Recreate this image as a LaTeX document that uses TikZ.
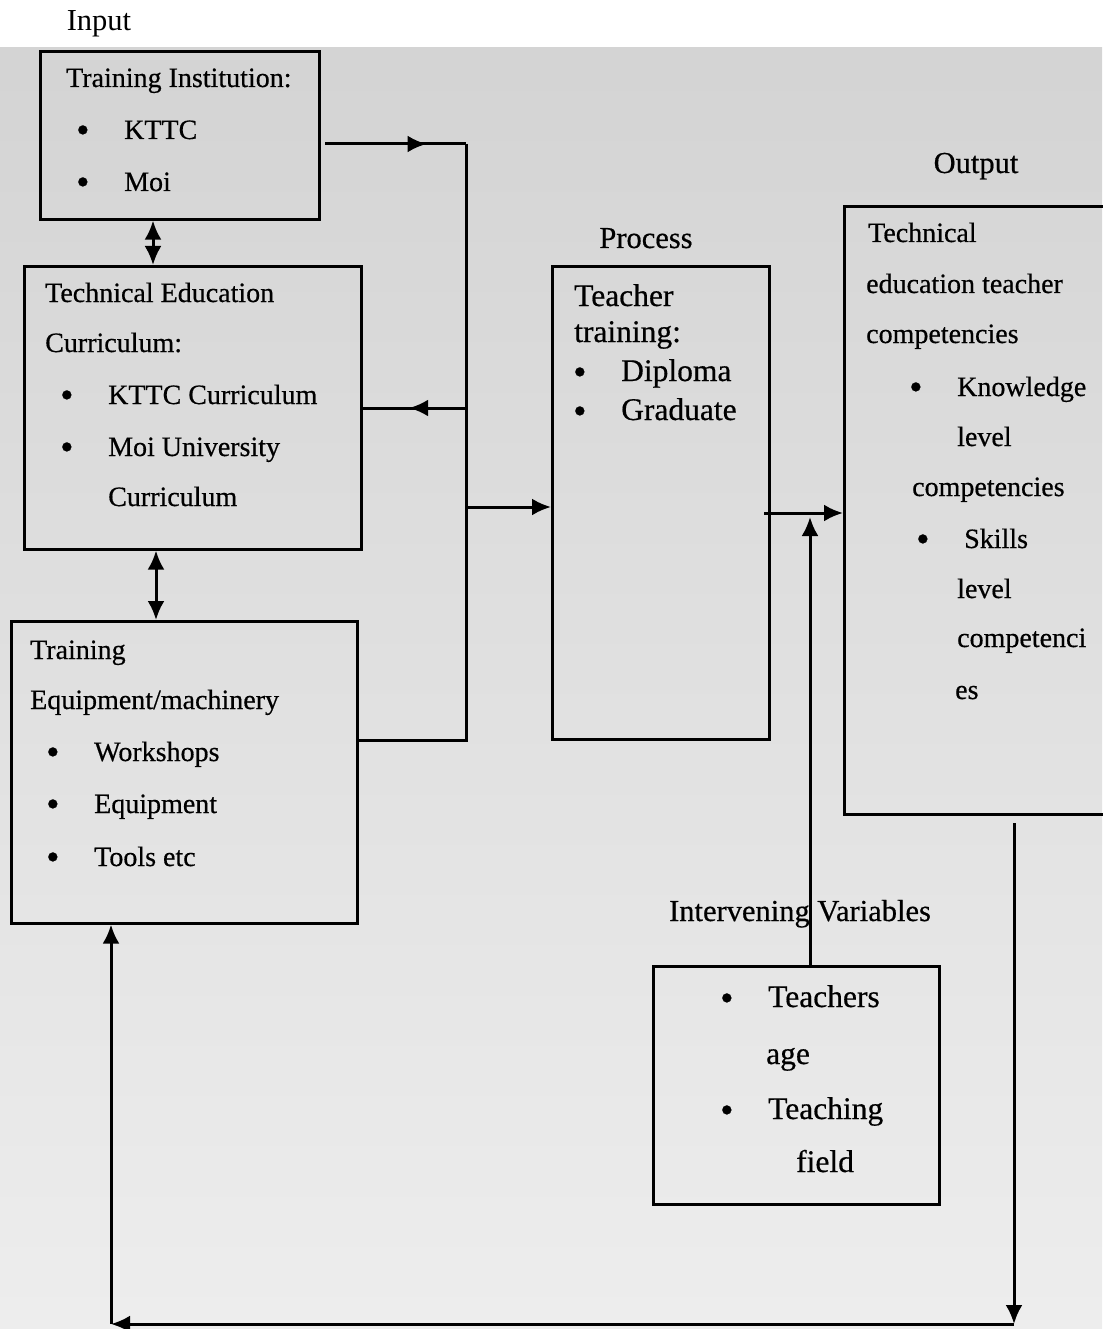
\documentclass[tikz,border=0pt]{standalone}
\usepackage{fontspec}
\setmainfont{Liberation Serif}[FakeBold=0.5]
\newfontfamily\plainfont{Liberation Serif}
\usepackage{tikz}
\usetikzlibrary{arrows.meta,decorations.markings}
\newcommand{\itm}{\makebox[48pt][l]{\raisebox{-3.5pt}{\fontsize{38}{34}\selectfont\textbullet}}}
\tikzset{
	box/.style={
		% The shape:
		rectangle,anchor=north west,inner sep=0pt,
		% The border:
		line width=2.6pt,draw=black,
	}}
\tikzset{
	txt/.style={
		% base line of each text line
		anchor=base west,inner sep=0pt,
		font=\fontsize{28}{34}\selectfont,
	},
	bigtxt/.style={txt,font=\fontsize{31.5}{36}\selectfont},
	lbl/.style={
		anchor=base,inner sep=0pt,
		font=\fontsize{30.5}{36}\selectfont,
	},
	wire/.style={line width=3pt},
	arr/.style={wire,-{Latex[length=19pt,width=17pt]}},
	dbl/.style={wire,{Latex[length=19pt,width=17pt]}-{Latex[length=19pt,width=17pt]}},
	midtip/.style={
		decoration={markings,mark=at position #1 with {\arrow{Latex[length=19pt,width=17pt]}}},
		postaction={decorate}},
}

\begin{document}
\begin{tikzpicture}[x=1pt,y=-1pt]
\useasboundingbox (0,0) rectangle (1102,1329);
% scanned page
\shade[top color=black!17,bottom color=black!7] (0,48) rectangle (1102,1329);

% boxes
\node[box,minimum width=279pt,minimum height=168pt] (inst) at (39,50) {};
\node[box,minimum width=337pt,minimum height=283pt] (curr) at (23,265) {};
\node[box,minimum width=346pt,minimum height=302pt] (equip) at (10,620) {};
\node[box,minimum width=217pt,minimum height=473pt] (proc) at (551,265) {};
\node[box,minimum width=270pt,minimum height=608pt] (outp) at (843,205) {};
\node[box,minimum width=286pt,minimum height=238pt] (interv) at (652,965) {};

% headings
\node[lbl] (lin) at (99,31) {\plainfont Input};
\node[lbl] (lpr) at (646,248) {Process};
\node[lbl] (lout) at (976,173) {Output};
\node[lbl] (liv) at (800,921) {Intervening Variables};

% input
\node[txt] (i0) at (66,87) {Training Institution:};
\node[txt] (i1) at (76,139) {\itm KTTC};
\node[txt] (i2) at (76,191) {\itm Moi};

\node[txt] (c0) at (45,302) {Technical Education};
\node[txt] (c1) at (45,352) {Curriculum:};
\node[txt] (c2) at (60,404) {\itm KTTC Curriculum};
\node[txt] (c3) at (60,456) {\itm Moi University};
\node[txt] (c4) at (108,506) {Curriculum};

\node[txt] (e0) at (30,659) {Training};
\node[txt] (e1) at (30,709) {Equipment/machinery};
\node[txt] (e2) at (46,761) {\itm Workshops};
\node[txt] (e3) at (46,813) {\itm Equipment};
\node[txt] (e4) at (46,866) {\itm Tools etc};

% process
\node[bigtxt] (p0) at (574,306) {Teacher};
\node[bigtxt] (p1) at (574,342) {training:};
\node[bigtxt] (p2) at (573,381) {\itm Diploma};
\node[bigtxt] (p3) at (573,420) {\itm Graduate};

% output
\node[txt] (o0) at (868,242) {Technical};
\node[txt] (o1) at (866,293) {education teacher};
\node[txt] (o2) at (866,343) {competencies};
\node[txt] (o3) at (909,396) {\itm Knowledge};
\node[txt] (o4) at (957,446) {level};
\node[txt] (o5) at (912,496) {competencies};
\node[txt] (o6) at (916,548) {\itm Skills};
\node[txt] (o7) at (957,598) {level};
\node[txt] (o8) at (957,647) {competenci};
\node[txt] (o9) at (955,699) {es};

% intervening
\node[bigtxt] (v0) at (720,1007) {\itm Teachers};
\node[bigtxt] (v1) at (766,1064) {age};
\node[bigtxt] (v2) at (720,1119) {\itm Teaching};
\node[bigtxt] (v3) at (796,1172) {field};

% connectors
\coordinate (k1) at (153,0);
\coordinate (k2) at (156,0);
\draw[dbl] (inst.south -| k1) -- (curr.north -| k1);
\draw[dbl] (curr.south -| k2) -- (equip.north -| k2);

\coordinate (bs) at (325,144);
\coordinate (bt) at (466,144);
\coordinate (bc) at (466,408);
\coordinate (bp) at (466,507);
\coordinate (bb) at (466,740);
\draw[wire,midtip=0.72] (bs) -- (bt);
\draw[wire] (bt) -- (bb) -- (equip.east |- bb);
\draw[wire,midtip=0.55] (bc) -- (curr.east |- bc);
\draw[arr] (bp) -- (proc.west |- bp);

\coordinate (po) at (764,513);
\draw[arr] (po) -- (outp.west |- po);
\coordinate (iv) at (810,517);
\draw[arr] (interv.north -| iv) -- (iv);

\coordinate (f1) at (1014,823);
\coordinate (f2) at (1014,1324);
\coordinate (f3) at (111,1324);
\draw[arr] (f1) -- (f2);
\draw[arr] (f2) -- (f3);
\draw[arr] (f3) -- (equip.south -| f3);
\end{tikzpicture}
\end{document}
